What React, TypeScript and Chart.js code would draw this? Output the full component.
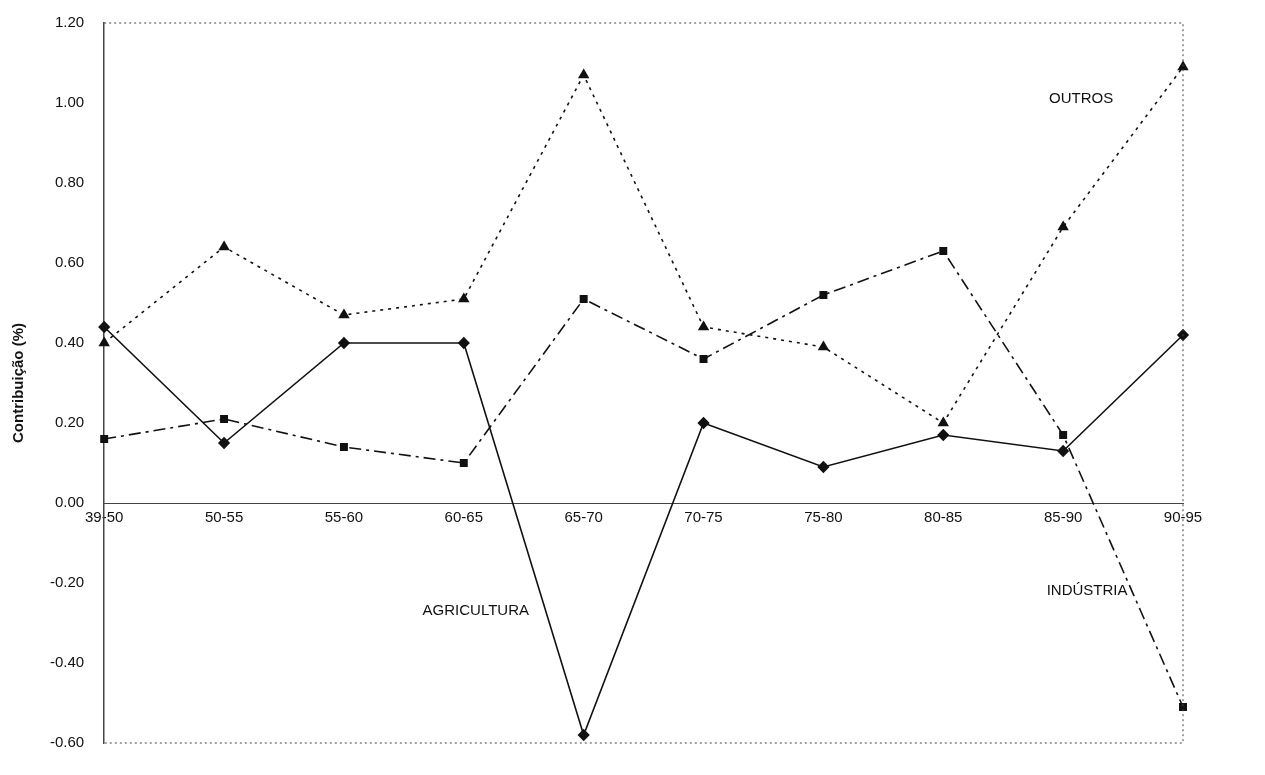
import React, { useRef, useEffect } from 'react';
import Chart from 'chart.js/auto';

const periods = ['39-50', '50-55', '55-60', '60-65', '65-70', '70-75', '75-80', '80-85', '85-90', '90-95'];
const agricultura = [0.44, 0.15, 0.40, 0.40, -0.58, 0.20, 0.09, 0.17, 0.13, 0.42];
const industria = [0.16, 0.21, 0.14, 0.10, 0.51, 0.36, 0.52, 0.63, 0.17, -0.51];
const outros = [0.40, 0.64, 0.47, 0.51, 1.07, 0.44, 0.39, 0.20, 0.69, 1.09];
const notes = [
  { text: 'OUTROS', x: 8.15, y: 1.01 },
  { text: 'AGRICULTURA', x: 3.1, y: -0.27 },
  { text: 'INDÚSTRIA', x: 8.2, y: -0.22 },
];

const FONT = '"Liberation Sans", Arial, sans-serif';

const framePlugin = {
  id: 'frame',
  afterDraw(chart: any) {
    const { ctx, chartArea: a, scales } = chart;
    ctx.save();
    ctx.strokeStyle = '#444';
    ctx.lineWidth = 1;
    ctx.setLineDash([2, 3]);
    ctx.beginPath();
    ctx.moveTo(a.left, a.top);
    ctx.lineTo(a.right, a.top);
    ctx.lineTo(a.right, a.bottom);
    ctx.lineTo(a.left, a.bottom);
    ctx.stroke();
    ctx.setLineDash([]);
    ctx.fillStyle = '#111';
    ctx.font = '15px ' + FONT;
    ctx.textAlign = 'center';
    ctx.textBaseline = 'middle';
    notes.forEach((n) => {
      ctx.fillText(n.text, scales.x.getPixelForValue(n.x), scales.y.getPixelForValue(n.y));
    });
    ctx.restore();
  },
};

const App: React.FC = () => {
  const ref = useRef<HTMLCanvasElement>(null);
  useEffect(() => {
    document.body.style.margin = '0';
    if (!ref.current) return;
    const base = { borderColor: '#111', backgroundColor: '#111', borderWidth: 1.6, pointRadius: 5, tension: 0 };
    const chart = new Chart(ref.current, {
      type: 'line',
      data: {
        labels: periods,
        datasets: [
          { ...base, label: 'Agricultura', data: agricultura, pointStyle: 'rectRot' },
          { ...base, label: 'Indústria', data: industria, pointStyle: 'rect', pointRadius: 4.5, borderDash: [12, 5, 3, 5] },
          { ...base, label: 'Outros', data: outros, pointStyle: 'triangle', borderDash: [3, 5] },
        ],
      },
      options: {
        animation: false,
        responsive: false,
        layout: { padding: { top: 22, right: 82, bottom: 32, left: 10 } },
        plugins: { legend: { display: false }, tooltip: { enabled: false } },
        scales: {
          x: {
            position: { y: 0 },
            offset: false,
            grid: { display: false, drawTicks: false },
            border: { color: '#444', width: 1 },
            ticks: { color: '#111', padding: 6, font: { family: FONT, size: 15 } },
          },
          y: {
            min: -0.6,
            max: 1.2,
            grid: { display: false, drawTicks: true, tickLength: 6, tickColor: '#444' } as any,
            border: { color: '#444', width: 1.5, dash: [2, 1] },
            ticks: {
              stepSize: 0.2,
              color: '#111',
              padding: 14,
              font: { family: FONT, size: 15 },
              callback: (v: any) => Number(v).toFixed(2),
            },
            title: {
              display: true,
              text: 'Contribuição (%)',
              color: '#111',
              padding: { top: 0, bottom: 8 },
              font: { family: FONT, size: 15, weight: 'bold' },
            },
          },
        },
      },
      plugins: [framePlugin],
    });
    return () => chart.destroy();
  }, []);
  return <canvas ref={ref} width={1265} height={775} style={{ display: 'block' }} />;
};

export default App;
